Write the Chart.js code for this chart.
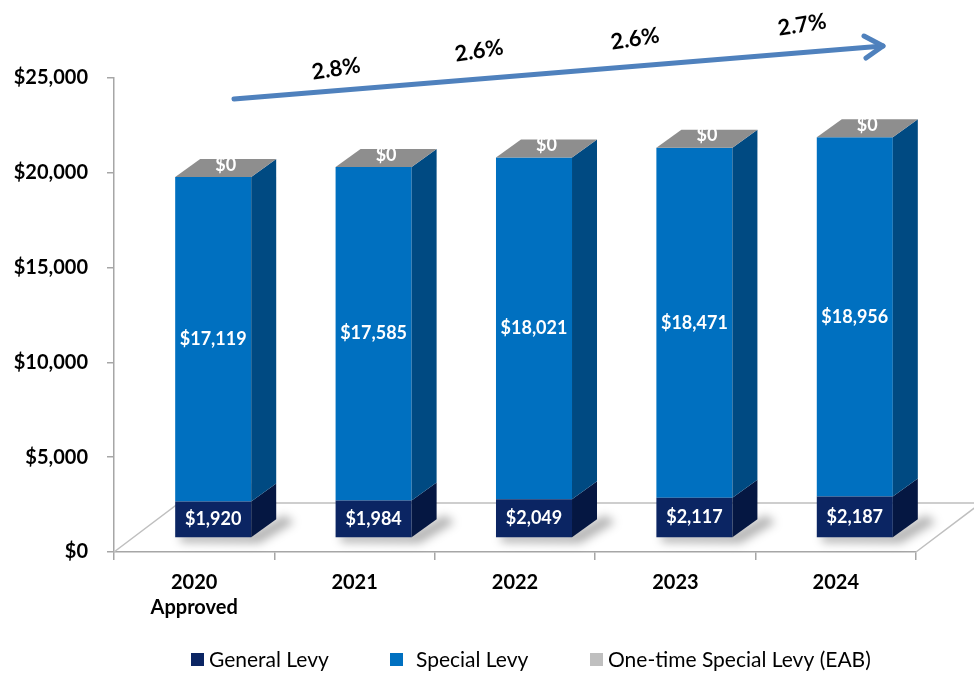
<!DOCTYPE html>
<html>
<head>
<meta charset="utf-8">
<script src="https://cdn.jsdelivr.net/npm/chart.js@4.4.1/dist/chart.umd.min.js"></script>
<style>
  html, body { margin: 0; padding: 0; background: #ffffff; }
  canvas { display: block; }
</style>
</head>
<body>
<canvas id="c" width="974" height="675"></canvas>
<script>
// ---- data ----
const categories = [['2020', 'Approved'], '2021', '2022', '2023', '2024'];
const seriesNames = ['General Levy', 'Special Levy', 'One-time Special Levy (EAB)'];
const generalLevy = [1920, 1984, 2049, 2117, 2187];
const specialLevy = [17119, 17585, 18021, 18471, 18956];
const oneTimeLevy = [0, 0, 0, 0, 0];
const growthLabels = ['2.8%', '2.6%', '2.6%', '2.7%'];
const yTickValues = [0, 5000, 10000, 15000, 20000, 25000];

// ---- styles ----
const FRONT = ['#0B2563', '#0070C0', '#A6A6A6'];
const SIDE = ['#051742', '#004A82', '#7F7F7F'];
const TOP = '#8E8E8E';
const LEGEND_COLORS = ['#0B2563', '#0070C0', '#BFBFBF'];
const AXIS_GRAY = '#A6A6A6';
const FONT = 'Lato, "Noto Sans", sans-serif';

// 3D geometry (pixels)
const FRONT_DX = 19, FRONT_DY = 14;   // bar front face offset from floor front
const DEPTH_DX = 25, DEPTH_DY = 18;   // bar depth
const FLOOR_DX = 65, FLOOR_DY = 49;   // floor depth

const fmt = v => '$' + v.toLocaleString('en-US');

const threeD = {
  id: 'threeD',
  beforeDatasetsDraw(chart) {
    const ctx = chart.ctx;
    const a = chart.chartArea;
    // floor
    ctx.save();
    ctx.strokeStyle = '#BFBFBF';
    ctx.lineWidth = 1.5;
    ctx.beginPath();
    ctx.moveTo(a.left, a.bottom);
    ctx.lineTo(a.left + FLOOR_DX, a.bottom - FLOOR_DY);
    ctx.lineTo(a.right + FLOOR_DX, a.bottom - FLOOR_DY);
    ctx.lineTo(a.right, a.bottom);
    ctx.stroke();
    ctx.restore();

    ctx.save();
    ctx.translate(FRONT_DX, -FRONT_DY);
    // shadows
    const meta0 = chart.getDatasetMeta(0);
    ctx.save();
    ctx.filter = 'blur(5px)';
    ctx.fillStyle = 'rgba(0,0,0,0.3)';
    meta0.data.forEach(el => {
      const xl = el.x - el.width / 2, xr = el.x + el.width / 2, b = el.base;
      ctx.beginPath();
      ctx.moveTo(xl + 4, b - 4);
      ctx.lineTo(xl + 6, b + 5);
      ctx.lineTo(xr + 8, b + 6);
      ctx.lineTo(xr + DEPTH_DX + 18, b - DEPTH_DY + 3);
      ctx.lineTo(xr + DEPTH_DX + 8, b - DEPTH_DY - 4);
      ctx.lineTo(xr, b - 4);
      ctx.closePath();
      ctx.fill();
    });
    ctx.restore();
  },
  afterDatasetsDraw(chart) {
    const ctx = chart.ctx;
    const n = chart.data.datasets.length;
    // side faces
    for (let d = 0; d < n - 1; d++) {
      const meta = chart.getDatasetMeta(d);
      meta.data.forEach(el => {
        const top = Math.min(el.y, el.base), bot = Math.max(el.y, el.base);
        const xr = el.x + el.width / 2;
        ctx.fillStyle = SIDE[d];
        ctx.beginPath();
        ctx.moveTo(xr, top);
        ctx.lineTo(xr + DEPTH_DX, top - DEPTH_DY);
        ctx.lineTo(xr + DEPTH_DX, bot - DEPTH_DY);
        ctx.lineTo(xr, bot);
        ctx.closePath();
        ctx.fill();
      });
    }
    // top faces (one-time levy segment, zero height)
    const topMeta = chart.getDatasetMeta(n - 1);
    topMeta.data.forEach(el => {
      const xl = el.x - el.width / 2, xr = el.x + el.width / 2, y = el.y;
      ctx.fillStyle = TOP;
      ctx.beginPath();
      ctx.moveTo(xl, y);
      ctx.lineTo(xr, y);
      ctx.lineTo(xr + DEPTH_DX, y - DEPTH_DY);
      ctx.lineTo(xl + DEPTH_DX, y - DEPTH_DY);
      ctx.closePath();
      ctx.fill();
    });
    ctx.restore(); // undo translate

    // data labels
    ctx.save();
    ctx.fillStyle = '#FFFFFF';
    ctx.font = 'bold 18px ' + FONT;
    ctx.textAlign = 'center';
    ctx.textBaseline = 'middle';
    chart.data.datasets.forEach((ds, d) => {
      const meta = chart.getDatasetMeta(d);
      meta.data.forEach((el, i) => {
        const v = ds.data[i];
        if (d < n - 1) {
          ctx.fillText(fmt(v), el.x + FRONT_DX, (el.y + el.base) / 2 - FRONT_DY);
        } else {
          ctx.fillText(fmt(v), el.x + FRONT_DX + DEPTH_DX / 2, el.y - FRONT_DY - DEPTH_DY / 2 - 3);
        }
      });
    });
    ctx.restore();
  },
  afterDraw(chart) {
    const ctx = chart.ctx;
    // growth arrow
    ctx.save();
    ctx.strokeStyle = '#4F81BD';
    ctx.lineWidth = 5;
    ctx.lineCap = 'round';
    ctx.lineJoin = 'round';
    const x0 = 234, y0 = 99, x1 = 883, y1 = 46;
    ctx.beginPath();
    ctx.moveTo(x0, y0);
    ctx.lineTo(x1, y1);
    ctx.stroke();
    ctx.beginPath();
    ctx.moveTo(864, 36);
    ctx.lineTo(x1, y1);
    ctx.lineTo(866, 58);
    ctx.stroke();
    ctx.restore();

    const labelPos = [[336, 69], [479, 51], [635, 39], [802, 25]];
    ctx.save();
    ctx.fillStyle = '#000000';
    ctx.font = 'bold 22px ' + FONT;
    ctx.textAlign = 'center';
    ctx.textBaseline = 'middle';
    growthLabels.forEach((t, i) => {
      ctx.save();
      ctx.translate(labelPos[i][0], labelPos[i][1]);
      ctx.rotate(-9 * Math.PI / 180);
      ctx.fillText(t, 0, 0);
      ctx.restore();
    });
    ctx.restore();

    // legend
    const boxX = [191, 390, 590];
    const textX = [209, 416, 608];
    ctx.save();
    ctx.font = '21px ' + FONT;
    ctx.textBaseline = 'middle';
    ctx.textAlign = 'left';
    chart.data.datasets.forEach((ds, d) => {
      ctx.fillStyle = LEGEND_COLORS[d];
      ctx.fillRect(boxX[d], 653, 13, 13);
      ctx.fillStyle = '#000000';
      ctx.fillText(ds.label, textX[d], 660);
    });
    ctx.restore();
  }
};

new Chart(document.getElementById('c'), {
  type: 'bar',
  data: {
    labels: categories,
    datasets: [
      { label: seriesNames[0], data: generalLevy, backgroundColor: FRONT[0] },
      { label: seriesNames[1], data: specialLevy, backgroundColor: FRONT[1] },
      { label: seriesNames[2], data: oneTimeLevy, backgroundColor: FRONT[2] }
    ]
  },
  options: {
    responsive: false,
    animation: false,
    layout: { padding: { top: 78, right: 58, bottom: 0, left: 0 } },
    datasets: { bar: { categoryPercentage: 1, barPercentage: 0.474, borderWidth: 0 } },
    plugins: { legend: { display: false }, tooltip: { enabled: false } },
    scales: {
      x: {
        stacked: true,
        offset: true,
        grid: { display: true, drawOnChartArea: false, offset: true, tickLength: 8, color: AXIS_GRAY, lineWidth: 1.5 },
        border: { display: true, color: AXIS_GRAY, width: 1.5 },
        ticks: { color: '#000', padding: 10, maxRotation: 0, autoSkip: false,
                 font: { family: FONT, weight: 'bold', size: 20, lineHeight: 1.25 } },
        afterFit: s => { s.height = 675 - 552; }
      },
      y: {
        stacked: true,
        min: 0,
        max: 25000,
        afterBuildTicks: s => { s.ticks = yTickValues.map(v => ({ value: v })); },
        grid: { display: true, drawOnChartArea: false, tickLength: 7, color: AXIS_GRAY, lineWidth: 1.5 },
        border: { display: true, color: AXIS_GRAY, width: 1.5 },
        ticks: { color: '#000', padding: 19, callback: v => fmt(v),
                 font: { family: FONT, weight: 'bold', size: 20 } },
        afterFit: s => { s.width = 114; }
      }
    }
  },
  plugins: [threeD]
});
</script>
</body>
</html>
